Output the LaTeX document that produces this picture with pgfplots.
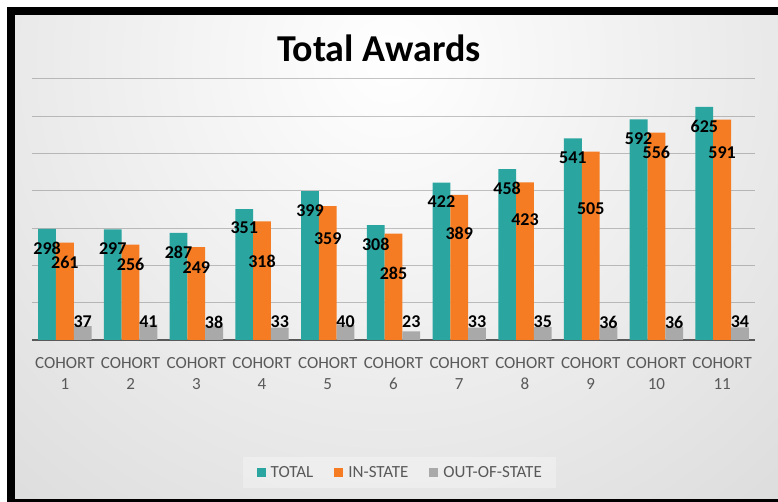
\documentclass[border=0pt]{standalone}
\usepackage{pgfplots}
\usepackage{pgfplotstable}
\pgfplotsset{compat=1.18}
\usepackage{fontspec}
\setmainfont{Carlito}
\definecolor{cteal}{HTML}{2AA5A0}
\definecolor{corange}{HTML}{F57C22}
\definecolor{cgray}{HTML}{A9A9A9}
\definecolor{ctext}{HTML}{595959}

\pgfplotstableread{
x y sy
0 298 -19
1 297 -19
2 287 -19
3 351 -19
4 399 -19
5 308 -19
6 422 -19
7 458 -19
8 541 -19
9 592 -19.5
10 625 -19
}\total
\pgfplotstableread{
x y sy
0 261 -19.5
1 256 -20
2 249 -20
3 318 -39.5
4 359 -33
5 285 -40
6 389 -38
7 423 -37.5
8 505 -57
9 556 -19.3
10 591 -33
}\instate
\pgfplotstableread{
x y sy
0 37 4.2
1 41 2.7
2 38 3.8
3 33 5.7
4 40 3.1
5 23 9.4
6 33 5.7
7 35 4.9
8 36 4.6
9 36 4.6
10 34 5.3
}\outstate

\begin{document}
\begin{tikzpicture}
\useasboundingbox (0,0) rectangle (778pt,502pt);
\fill[white] (0,0) rectangle (778pt,502pt);
\begin{scope}
\clip (15pt,3pt) rectangle (778pt,487pt);
\shade[inner color=white, outer color=black!25] (390pt,442pt) circle (1100pt);
\end{scope}
\fill[black] (7pt,487pt) rectangle (778pt,495pt);
\fill[black] (7pt,0pt) rectangle (15pt,495pt);
\fill[black] (7pt,0pt) rectangle (778pt,3pt);
\node[anchor=base, font=\bfseries\fontsize{38}{38}\selectfont] at (379pt,440pt) {Total Awards};
\begin{axis}[
  at={(32pt,162pt)}, anchor=south west,
  scale only axis, width=723pt, height=261pt,
  xmin=-0.5, xmax=10.5, ymin=0, ymax=700,
  ybar=0pt, bar width=17.8pt,
  axis line style={draw=none},
  ytick={100,200,...,700}, yticklabels={},
  major tick length=0pt,
  ymajorgrids, grid style={black!75, opacity=0.3, line width=1pt},
  extra y ticks={0}, extra y tick labels={},
  extra y tick style={grid style={ctext, opacity=1, line width=1.6pt}},
  xtick={0,...,10},
  xticklabels={{COHORT\\1},{COHORT\\2},{COHORT\\3},{COHORT\\4},{COHORT\\5},{COHORT\\6},{COHORT\\7},{COHORT\\8},{COHORT\\9},{COHORT\\10},{COHORT\\11}},
  xticklabel style={align=center, text=ctext, font=\fontsize{17}{21}\selectfont, yshift=-14pt},
  /pgf/number format/assume math mode=true,
  visualization depends on={\thisrow{sy} \as \sy},
  nodes near coords,
  nodes near coords style={font=\bfseries\fontsize{18}{18}\selectfont, text=black, anchor=center, yshift=\sy pt},
  legend columns=3,
  legend image code/.code={\fill[#1, fill opacity=1, draw=none] (0pt,-4.5pt) rectangle (9pt,4.5pt);},
  legend style={at={(0.508,-0.508)}, anchor=center, draw=none, fill=white, fill opacity=0.3, text opacity=1, text=ctext, font=\fontsize{17}{17}\selectfont, inner xsep=14pt, inner ysep=9pt, nodes={inner sep=0pt}, /tikz/every odd column/.append style={column sep=5pt}, /tikz/every even column/.append style={column sep=21pt}},
]
\addplot[fill=cteal, draw=none] table[x=x,y=y] {\total};
\addplot[fill=corange, draw=none] table[x=x,y=y] {\instate};
\addplot[fill=cgray, draw=none] table[x=x,y=y] {\outstate};
\legend{TOTAL, IN-STATE, OUT-OF-STATE}
\end{axis}
\end{tikzpicture}
\end{document}
